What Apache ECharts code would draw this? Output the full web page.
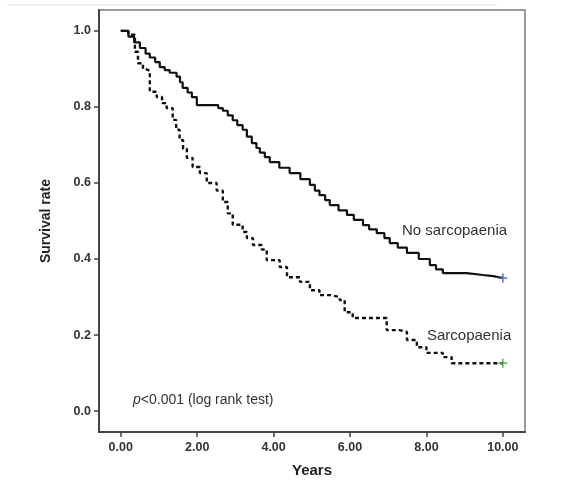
<!DOCTYPE html>
<html>
<head>
<meta charset="utf-8">
<script src="https://cdn.jsdelivr.net/npm/echarts@6/dist/echarts.min.js"></script>
<style>html,body{margin:0;padding:0;background:#fff;}#c{width:566px;height:500px;}</style>
</head>
<body>
<div id="c"></div>
<script>
// ---- data ----
const noSarcTime = [0, 0.2, 0.35, 0.5, 0.65, 0.76, 0.9, 1.02, 1.15, 1.28, 1.46, 1.55, 1.62, 1.75, 1.86, 1.99, 2.55, 2.67, 2.8, 2.93, 3.05, 3.19, 3.3, 3.43, 3.55, 3.64, 3.77, 3.9, 4.15, 4.42, 4.7, 4.95, 5.08, 5.2, 5.35, 5.47, 5.7, 5.92, 6.1, 6.34, 6.5, 6.7, 6.9, 7.04, 7.25, 7.49, 7.8, 8.09, 8.25, 8.43, 9.05, 9.48, 9.75, 10.0];
const noSarcSurv = [1.0, 0.985, 0.97, 0.955, 0.94, 0.93, 0.918, 0.905, 0.897, 0.89, 0.88, 0.865, 0.85, 0.838, 0.826, 0.805, 0.797, 0.79, 0.778, 0.765, 0.752, 0.74, 0.722, 0.705, 0.692, 0.68, 0.668, 0.655, 0.64, 0.626, 0.61, 0.595, 0.58, 0.568, 0.555, 0.542, 0.528, 0.516, 0.503, 0.489, 0.478, 0.468, 0.455, 0.442, 0.43, 0.416, 0.4, 0.384, 0.373, 0.363, 0.358, 0.355, 0.35, 0.35];
const sarcTime = [0, 0.2, 0.37, 0.45, 0.58, 0.65, 0.76, 0.94, 1.08, 1.2, 1.36, 1.45, 1.54, 1.63, 1.73, 1.88, 2.07, 2.25, 2.51, 2.67, 2.8, 2.93, 3.19, 3.3, 3.46, 3.69, 3.82, 4.16, 4.35, 4.69, 4.95, 5.2, 5.47, 5.73, 5.86, 6.07, 6.96, 7.3, 7.49, 7.75, 8.0, 8.43, 8.66, 10.0];
const sarcSurv = [1.0, 0.99, 0.945, 0.915, 0.9, 0.895, 0.84, 0.826, 0.81, 0.797, 0.766, 0.74, 0.713, 0.69, 0.666, 0.642, 0.626, 0.6, 0.58, 0.55, 0.52, 0.49, 0.471, 0.455, 0.437, 0.425, 0.397, 0.379, 0.352, 0.34, 0.318, 0.305, 0.3, 0.292, 0.26, 0.245, 0.213, 0.208, 0.187, 0.168, 0.153, 0.142, 0.126, 0.126];
const censorTime = [10.0, 10.0];
const censorSurv = [0.35, 0.126];
const xTicks = [0, 2, 4, 6, 8, 10];
const yTicks = [0, 0.2, 0.4, 0.6, 0.8, 1.0];
const seriesNames = ['No sarcopaenia', 'Sarcopaenia'];

const zip = (a, b) => a.map((v, i) => [v, b[i]]);
const plusPath = 'path://M4,0 L6,0 L6,4 L10,4 L10,6 L6,6 L6,10 L4,10 L4,6 L0,6 L0,4 L4,4 Z';
const FONT = 'Liberation Sans, Arial, sans-serif';

const chart = echarts.init(document.getElementById('c'), null, {renderer: 'canvas'});
chart.setOption({
  animation: false,
  backgroundColor: '#fff',
  grid: {left: 99, right: 41, top: 10, bottom: 68, show: true, borderColor: '#777', borderWidth: 1.5, backgroundColor: 'transparent'},
  xAxis: {
    type: 'value', min: -0.57, max: 10.58,
    name: 'Years', nameLocation: 'middle', nameGap: 31,
    nameTextStyle: {fontFamily: FONT, fontSize: 15, fontWeight: 'bold', color: '#222'},
    axisLine: {show: true, onZero: false, lineStyle: {color: '#444', width: 2}},
    axisTick: {show: true, length: 5, lineStyle: {color: '#444', width: 1.5}, customValues: xTicks},
    axisLabel: {customValues: xTicks, formatter: v => v.toFixed(2), fontFamily: FONT, fontSize: 12.5, fontWeight: 'bold', color: '#333', margin: 9},
    splitLine: {show: false}
  },
  yAxis: {
    type: 'value', min: -0.055, max: 1.055,
    name: 'Survival rate', nameLocation: 'middle', nameGap: 46, nameRotate: 90,
    nameTextStyle: {fontFamily: FONT, fontSize: 14, fontWeight: 'bold', color: '#222'},
    axisLine: {show: true, onZero: false, lineStyle: {color: '#444', width: 2}},
    axisTick: {show: true, length: 5, lineStyle: {color: '#444', width: 1.5}, customValues: yTicks},
    axisLabel: {customValues: yTicks, formatter: v => v.toFixed(1), fontFamily: FONT, fontSize: 12.5, fontWeight: 'bold', color: '#333', margin: 8},
    splitLine: {show: false}
  },
  graphic: [
    {type: 'line', shape: {x1: 7, y1: 5, x2: 497, y2: 5}, style: {stroke: '#ddd', lineWidth: 1}},
    {type: 'text', left: 402, top: 223, style: {text: seriesNames[0], font: '15px ' + FONT, fill: '#333'}},
    {type: 'text', left: 427, top: 328, style: {text: seriesNames[1], font: '15px ' + FONT, fill: '#333'}},
    {type: 'text', left: 133, top: 393, style: {
      text: '{i|p}<0.001 (log rank test)', font: '14px ' + FONT, fill: '#333',
      rich: {i: {fontStyle: 'italic', fontSize: 14, fontFamily: FONT, fill: '#333'}}
    }}
  ],
  series: [
    {type: 'line', name: seriesNames[0], step: 'end', showSymbol: false, data: zip(noSarcTime, noSarcSurv),
     lineStyle: {color: '#111', width: 2.2}, z: 3},
    {type: 'line', name: seriesNames[1], step: 'end', showSymbol: false, data: zip(sarcTime, sarcSurv),
     lineStyle: {color: '#111', width: 2.4, type: [4, 3]}, z: 3},
    {type: 'scatter', data: zip(censorTime, censorSurv), symbol: plusPath, symbolSize: 9,
     itemStyle: {color: p => p.dataIndex === 0 ? '#4a63c8' : '#3cb043'}, z: 4}
  ]
});
</script>
</body>
</html>
